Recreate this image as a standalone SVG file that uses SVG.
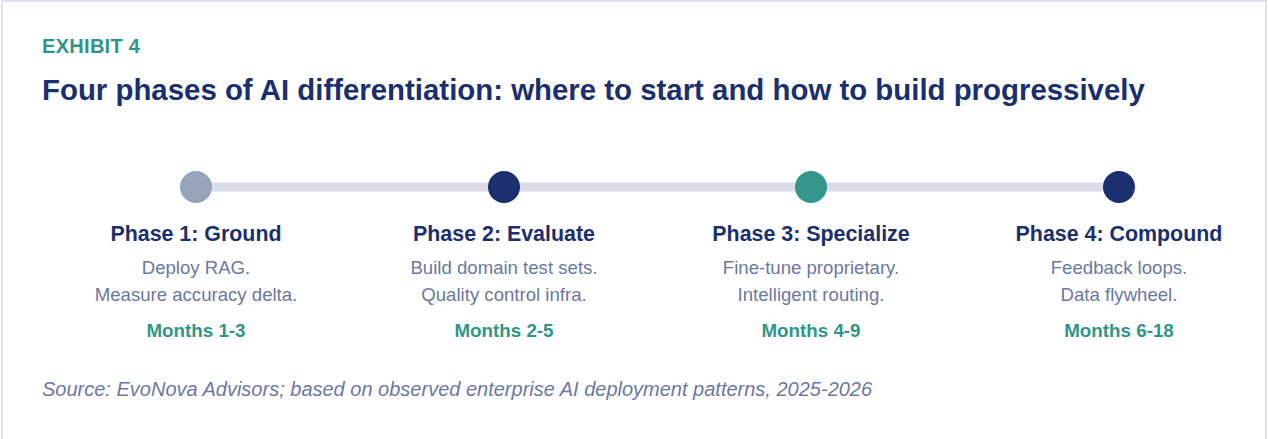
<svg xmlns="http://www.w3.org/2000/svg" width="1268" height="439" viewBox="0 0 1268 439">
  <style>
    .eyebrow { font: bold 20px "Liberation Sans", Arial, sans-serif; fill: #2f9687; letter-spacing: 0.3px; }
    .title { font: bold 29.4px "Liberation Sans", Arial, sans-serif; fill: #1b2f6e; }
    .phase { font: bold 21.4px "Liberation Sans", Arial, sans-serif; fill: #1b2f6e; text-anchor: middle; }
    .desc { font: 18.6px "Liberation Sans", Arial, sans-serif; fill: #6b78a0; text-anchor: middle; }
    .months { font: bold 18.8px "Liberation Sans", Arial, sans-serif; fill: #2f9687; text-anchor: middle; }
    .source { font: italic 20px "Liberation Sans", Arial, sans-serif; fill: #6b78a0; }
    .track { stroke: #dadde8; stroke-width: 9; }
  </style>
  <rect x="0" y="0" width="1268" height="439" fill="#ffffff"/>
  <rect x="2" y="1" width="1264" height="460" fill="#ffffff" stroke="#dfe2ec" stroke-width="2"/>

  <text class="eyebrow" x="42" y="53">EXHIBIT 4</text>
  <text class="title" x="42" y="100">Four phases of AI differentiation: where to start and how to build progressively</text>

  <g id="connectors">
    <line class="track" x1="196" y1="187" x2="1119" y2="187"/>
  </g>

  <g id="phase1">
    <circle cx="196" cy="187" r="16" fill="#96a3b9"/>
    <text class="phase" x="196" y="241">Phase 1: Ground</text>
    <text class="desc" x="196" y="274">Deploy RAG.</text>
    <text class="desc" x="196" y="301">Measure accuracy delta.</text>
    <text class="months" x="196" y="337">Months 1-3</text>
  </g>
  <g id="phase2">
    <circle cx="504" cy="187" r="16" fill="#1b2f6e"/>
    <text class="phase" x="504" y="241">Phase 2: Evaluate</text>
    <text class="desc" x="504" y="274">Build domain test sets.</text>
    <text class="desc" x="504" y="301">Quality control infra.</text>
    <text class="months" x="504" y="337">Months 2-5</text>
  </g>
  <g id="phase3">
    <circle cx="811" cy="187" r="16" fill="#33988a"/>
    <text class="phase" x="811" y="241">Phase 3: Specialize</text>
    <text class="desc" x="811" y="274">Fine-tune proprietary.</text>
    <text class="desc" x="811" y="301">Intelligent routing.</text>
    <text class="months" x="811" y="337">Months 4-9</text>
  </g>
  <g id="phase4">
    <circle cx="1119" cy="187" r="16" fill="#1b2f6e"/>
    <text class="phase" x="1119" y="241">Phase 4: Compound</text>
    <text class="desc" x="1119" y="274">Feedback loops.</text>
    <text class="desc" x="1119" y="301">Data flywheel.</text>
    <text class="months" x="1119" y="337">Months 6-18</text>
  </g>

  <text class="source" x="42" y="396">Source: EvoNova Advisors; based on observed enterprise AI deployment patterns, 2025-2026</text>
</svg>
